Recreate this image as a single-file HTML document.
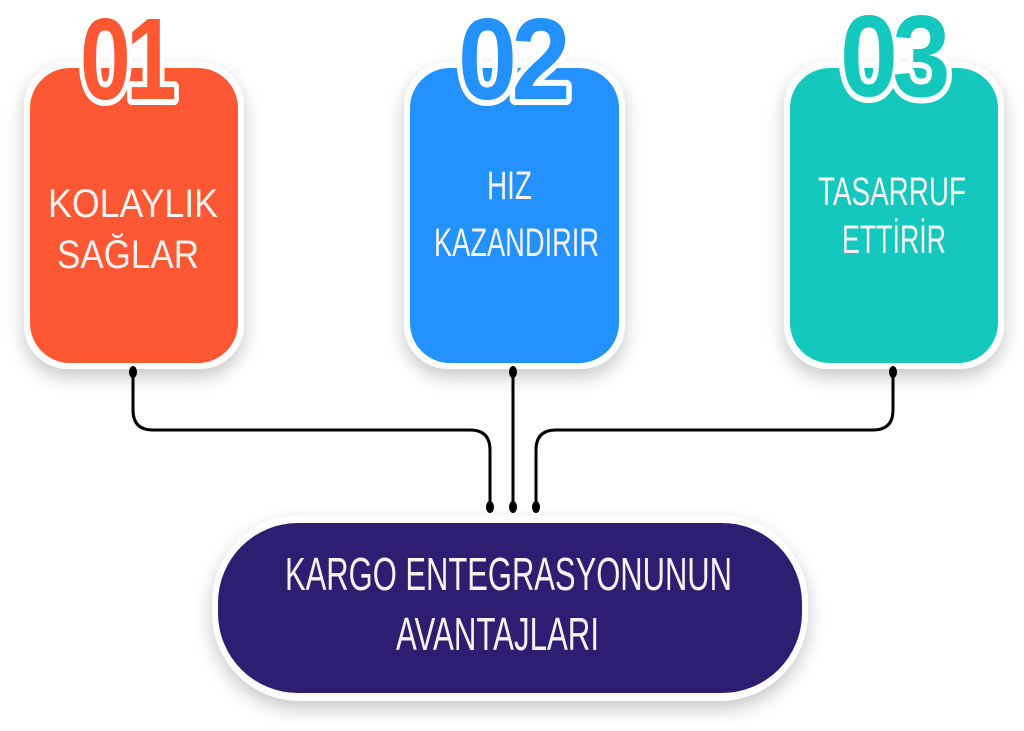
<!DOCTYPE html>
<html><head><meta charset="utf-8"><style>html,body{margin:0;padding:0;background:#fff}svg{display:block}</style></head><body>
<svg width="1024" height="731" viewBox="0 0 1024 731" xmlns="http://www.w3.org/2000/svg">
<defs>
<filter id="sh" x="-20%" y="-20%" width="140%" height="150%"><feDropShadow dx="0" dy="8" stdDeviation="9" flood-color="#000" flood-opacity="0.22"/></filter>
</defs>
<g fill="#fff" filter="url(#sh)">
<rect x="24" y="62" width="220" height="307" rx="44"/>
<rect x="404" y="62" width="221" height="307" rx="44"/>
<rect x="784" y="62" width="220" height="307" rx="44"/>
<rect x="212" y="515" width="596" height="186" rx="88"/>
</g>
<rect x="30" y="68" width="208" height="295" rx="40" fill="#fd5733"/>
<rect x="410" y="68" width="209" height="295" rx="40" fill="#2391fe"/>
<rect x="790" y="68" width="208" height="295" rx="40" fill="#14c8be"/>
<rect x="218" y="523" width="584" height="170" rx="80" fill="#2d1e71"/>
<g font-family="Liberation Sans, sans-serif" font-weight="bold" font-size="116" stroke="#fff" stroke-width="12" stroke-linejoin="round" paint-order="stroke" letter-spacing="-6">
<text x="80" y="99" fill="#fd5733" textLength="92" lengthAdjust="spacingAndGlyphs">01</text>
<text x="458" y="99" fill="#2391fe" textLength="107" lengthAdjust="spacingAndGlyphs">02</text>
<text x="840" y="96" fill="#14c8be" textLength="105" lengthAdjust="spacingAndGlyphs">03</text>
</g>
<g font-family="Liberation Sans, sans-serif" fill="#f8f2f0" font-size="40">
<text x="48" y="217" textLength="170" lengthAdjust="spacingAndGlyphs">KOLAYLIK</text>
<text x="57" y="268" textLength="142" lengthAdjust="spacingAndGlyphs">SAĞLAR</text>
<text x="487" y="199" textLength="45" lengthAdjust="spacingAndGlyphs">HIZ</text>
<text x="434" y="256" textLength="165" lengthAdjust="spacingAndGlyphs">KAZANDIRIR</text>
<text x="818" y="205" textLength="148" lengthAdjust="spacingAndGlyphs">TASARRUF</text>
<text x="842" y="253" textLength="104" lengthAdjust="spacingAndGlyphs">ETTİRİR</text>
<text x="285" y="590" font-size="46" textLength="447" lengthAdjust="spacingAndGlyphs">KARGO ENTEGRASYONUNUN</text>
<text x="396" y="650" font-size="46" textLength="203" lengthAdjust="spacingAndGlyphs">AVANTAJLARI</text>
</g>
<g fill="none" stroke="#000" stroke-width="3">
<path d="M133 372 V410 Q133 430 153 430 H470 Q490 430 490 450 V505"/>
<path d="M513 372 V505"/>
<path d="M893 372 V410 Q893 430 873 430 H556 Q536 430 536 450 V505"/>
</g>
<g fill="#000">
<ellipse cx="133" cy="372" rx="4" ry="6"/>
<ellipse cx="513" cy="372" rx="4" ry="6"/>
<ellipse cx="893" cy="372" rx="4" ry="6"/>
<ellipse cx="490" cy="507" rx="4" ry="6"/>
<ellipse cx="513" cy="507" rx="4" ry="6"/>
<ellipse cx="536" cy="507" rx="4" ry="6"/>
</g>
</svg>
</body></html>
